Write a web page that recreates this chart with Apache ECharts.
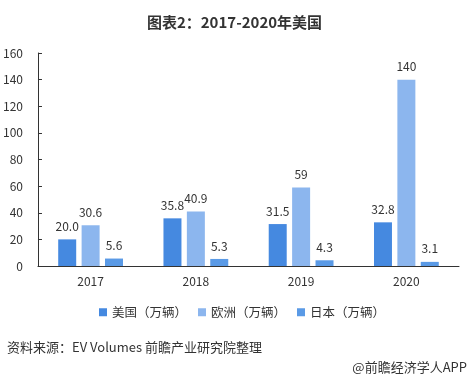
<!DOCTYPE html>
<html>
<head>
<meta charset="utf-8">
<script src="https://cdn.jsdelivr.net/npm/echarts@6/dist/echarts.min.js"></script>
<style>
html,body{margin:0;padding:0;background:#fff;}
#main{width:469px;height:381px;}
</style>
</head>
<body>
<div id="main"></div>
<script>
const categories = ['2017', '2018', '2019', '2020'];
const usValues = [20.0, 35.8, 31.5, 32.8];
const euValues = [30.6, 40.9, 59, 140];
const jpValues = [5.6, 5.3, 4.3, 3.1];
const seriesNames = ['美国（万辆）', '欧洲（万辆）', '日本（万辆）'];
const usLabels = ['20.0', '35.8', '31.5', '32.8'];
const euLabels = ['30.6', '40.9', '59', '140'];
const jpLabels = ['5.6', '5.3', '4.3', '3.1'];

const FONT = '"Noto Sans CJK SC", "Noto Sans", sans-serif';
const chart = echarts.init(document.getElementById('main'), null, {renderer: 'canvas'});

function barSeries(name, values, labels, color) {
  return {
    name: name,
    type: 'bar',
    data: values,
    barWidth: 18,
    barGap: '30%',
    itemStyle: {color: color},
    label: {
      show: true,
      position: 'top',
      distance: 7,
      color: '#333',
      fontSize: 12,
      fontFamily: FONT,
      formatter: function (p) { return labels[p.dataIndex]; }
    }
  };
}

chart.setOption({
  animation: false,
  backgroundColor: '#fff',
  title: {
    text: '图表2：2017-2020年美国',
    left: 'center',
    top: 10,
    textStyle: {fontSize: 15, fontWeight: 'bold', color: '#333', fontFamily: FONT}
  },
  grid: {left: 36, right: 10, top: 53, bottom: 115, containLabel: false},
  legend: {
    data: seriesNames,
    top: 301,
    left: 94,
    itemWidth: 8,
    itemHeight: 8,
    itemGap: 11,
    icon: 'rect',
    textStyle: {fontSize: 12.5, color: '#333', fontFamily: FONT}
  },
  xAxis: {
    type: 'category',
    data: categories,
    axisLine: {lineStyle: {color: '#333', width: 1}},
    axisTick: {show: false},
    axisLabel: {color: '#333', fontSize: 12, margin: 9, fontFamily: FONT}
  },
  yAxis: {
    type: 'value',
    min: 0,
    max: 160,
    interval: 20,
    splitLine: {show: false},
    axisLine: {show: true, lineStyle: {color: '#333', width: 1}},
    axisTick: {show: true, inside: true, length: 4, lineStyle: {color: '#333'}},
    axisLabel: {color: '#333', fontSize: 12, margin: 15, fontFamily: FONT}
  },
  series: [
    barSeries(seriesNames[0], usValues, usLabels, '#4589e0'),
    barSeries(seriesNames[1], euValues, euLabels, '#8cb6ee'),
    barSeries(seriesNames[2], jpValues, jpLabels, '#5a9ae6')
  ],
  graphic: [
    {
      type: 'text',
      left: 7,
      top: 341,
      style: {text: '资料来源：EV Volumes 前瞻产业研究院整理', fill: '#333', fontSize: 13, fontFamily: FONT}
    },
    {
      type: 'text',
      right: 2,
      top: 361,
      style: {text: '@前瞻经济学人APP', fill: '#333', fontSize: 13, fontFamily: FONT}
    }
  ]
});
</script>
</body>
</html>
